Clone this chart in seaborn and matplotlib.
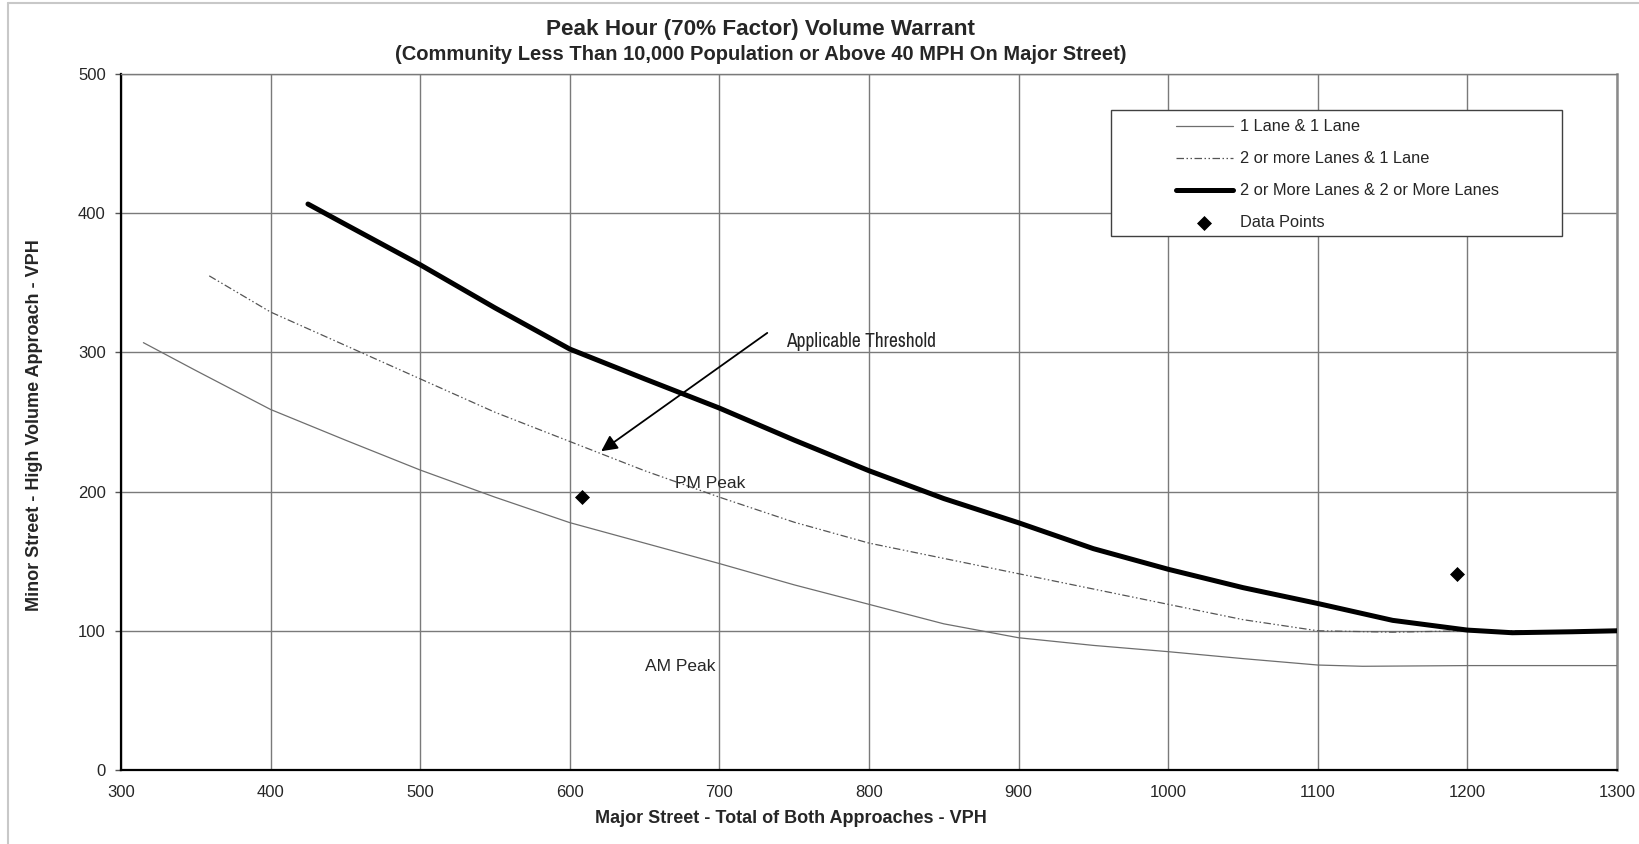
import numpy as np
import pandas as pd
import matplotlib
matplotlib.use("Agg")
import matplotlib.pyplot as plt
from matplotlib import font_manager as fm
from matplotlib.lines import Line2D
from matplotlib.patches import Rectangle
import seaborn as sns

# values (VPH)
x_1l1l = [315, 350, 400, 450, 500, 550, 600, 650, 700, 750, 800, 850, 900, 950, 1000, 1050, 1100, 1130, 1200, 1300]
y_1l1l = [307, 287, 259, 237, 215.5, 196, 177.7, 163, 148.3, 133, 119, 105, 95, 89.5, 85, 80, 75.4, 74.5, 75, 75]

x_2l1l = [359, 400, 450, 500, 550, 600, 650, 700, 750, 800, 850, 900, 950, 1000, 1050, 1100, 1150, 1200, 1300]
y_2l1l = [355, 329, 305, 281, 257, 236, 215, 196, 178, 163, 152, 141, 130, 119, 108, 100, 99, 100, 100]

x_2l2l = [425, 450, 500, 550, 600, 650, 700, 750, 800, 850, 900, 950, 1000, 1050, 1100, 1150, 1200, 1230, 1270, 1300]
y_2l2l = [406.6, 392, 363, 332, 302.4, 281, 260, 237, 215, 195, 177.6, 159, 144.2, 131, 119.6, 107.5, 100.5, 98.6, 99.3, 100]

data_x = [608, 1193]
data_y = [196, 141]

series_labels = ["1 Lane & 1 Lane", "2 or more Lanes & 1 Lane",
                 "2 or More Lanes & 2 or More Lanes", "Data Points"]

sns.set_theme(style="white")
plt.rcParams["font.family"] = ["Liberation Sans", "DejaVu Sans"]

# a condensed face for the hand-placed note, if one is installed
names = sorted({f.name for f in fm.fontManager.ttflist})
cond = [n for n in names if "Narrow" in n or "Condensed" in n]
if cond:
    narrow, narrow_size = cond[0], 14
else:
    narrow, narrow_size = "Liberation Sans", 11.3

fig = plt.figure(figsize=(16.39, 8.44), dpi=100)
ax = fig.add_axes([0.0738, 0.0877, 0.9128, 0.8246])

sns.lineplot(x=x_1l1l, y=y_1l1l, ax=ax, color="#6e6e6e", linewidth=0.9,
             label=series_labels[0], sort=False, zorder=3)
sns.lineplot(x=x_2l1l, y=y_2l1l, ax=ax, color="#555555", linewidth=0.9,
             linestyle=(0, (6, 2, 1.2, 2, 1.2, 2)),
             label=series_labels[1], sort=False, zorder=3)
sns.lineplot(x=x_2l2l, y=y_2l2l, ax=ax, color="black", linewidth=3.6,
             label=series_labels[2], sort=False, zorder=4)
sns.scatterplot(x=data_x, y=data_y, ax=ax, marker="D", s=50, color="black",
                edgecolor="black", label=series_labels[3], zorder=5)

ax.set_xlim(300, 1300)
ax.set_ylim(0, 500)
ax.set_xticks(range(300, 1301, 100))
ax.set_yticks(range(0, 501, 100))
ax.grid(True, color="#7a7a7a", linewidth=1.0)
ax.set_axisbelow(True)

for side in ["left", "bottom"]:
    ax.spines[side].set_color("black")
    ax.spines[side].set_linewidth(1.6)
ax.spines["right"].set_color("#8a8a8a")
ax.spines["right"].set_linewidth(1.8)
ax.spines["top"].set_color("#7a7a7a")
ax.spines["top"].set_linewidth(1.0)

ax.tick_params(axis="y", direction="out", length=4, width=1, color="#555555",
               labelsize=12, pad=7, left=True)
ax.tick_params(axis="x", length=0, labelsize=12, pad=11)

ax.set_xlabel("Major Street - Total of Both Approaches - VPH",
              fontsize=13, fontweight="bold", va="center")
ax.xaxis.set_label_coords(0.448, -0.069)
ax.set_ylabel("Minor Street - High Volume Approach - VPH",
              fontsize=13, fontweight="bold", va="center")
ax.yaxis.set_label_coords(-0.0578, 0.496)

fig.text(0.4643, 0.9645, "Peak Hour (70% Factor) Volume Warrant",
         ha="center", va="center", fontsize=16.2, fontweight="bold")
fig.text(0.4643, 0.9360,
         "(Community Less Than 10,000 Population or Above 40 MPH On Major Street)",
         ha="center", va="center", fontsize=14.5, fontweight="bold")

# legend box
ax.add_patch(Rectangle((0.662, 0.767), 0.301, 0.182, transform=ax.transAxes,
                       facecolor="white", edgecolor="#404040", linewidth=1.0,
                       zorder=6))
leg = ax.legend(loc="upper left", bbox_to_anchor=(0.705, 0.935), frameon=False,
                fontsize=11.8, borderpad=0, borderaxespad=0, labelspacing=1.04,
                handlelength=3.5, handletextpad=0.4, numpoints=1, markerscale=1)
leg.set_zorder(7)

ax.annotate("", xy=(621, 229), xytext=(732, 314),
            arrowprops=dict(arrowstyle="-|>,head_length=0.8,head_width=0.4",
                            color="black", lw=1.3, mutation_scale=12,
                            shrinkA=0, shrinkB=0), zorder=6)
ax.text(744.5, 308, "Applicable Threshold", family=narrow, fontsize=narrow_size,
        ha="left", va="center", zorder=6)
ax.text(670, 206, "PM Peak", fontsize=12.5, ha="left", va="center", zorder=6)
ax.text(650, 74, "AM Peak", fontsize=12.5, ha="left", va="center", zorder=6,
        bbox=dict(facecolor="white", edgecolor="none", pad=1.5))

# thin outer frame visible at left and top
fig.add_artist(Line2D([0.0049, 0.0049], [0, 0.996], transform=fig.transFigure,
                      color="#c8c8c8", linewidth=1.5))
fig.add_artist(Line2D([0.0049, 1.0], [0.996, 0.996], transform=fig.transFigure,
                      color="#c8c8c8", linewidth=1.5))

fig.savefig("out.png", dpi=100, facecolor="white")
